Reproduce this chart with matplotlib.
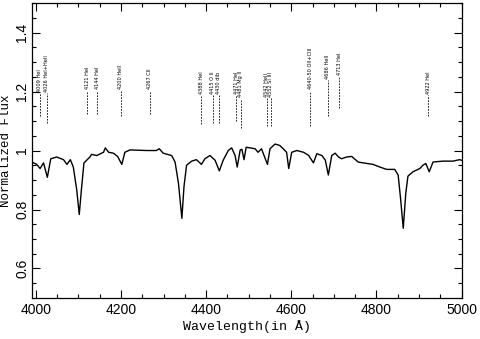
import numpy as np
import matplotlib.pyplot as plt
from matplotlib.ticker import MultipleLocator

# spectrum
wave = [3990, 4002, 4010, 4018, 4027, 4035, 4049, 4065, 4073, 4081, 4088, 4096,
        4102, 4107, 4113, 4127, 4131, 4143, 4159, 4163, 4171, 4182, 4192, 4202,
        4209, 4221, 4260, 4283, 4290, 4299, 4319, 4327, 4335, 4343, 4348, 4354,
        4366, 4377, 4381, 4389, 4397, 4409, 4421, 4431, 4440, 4452, 4460, 4468,
        4473, 4480, 4484, 4489, 4494, 4503, 4515, 4522, 4530, 4544, 4550, 4562,
        4573, 4581, 4589, 4594, 4601, 4613, 4629, 4641, 4652, 4660, 4672, 4680,
        4687, 4695, 4703, 4711, 4718, 4730, 4742, 4757, 4769, 4792, 4808, 4824,
        4843, 4851, 4857, 4863, 4869, 4874, 4886, 4902, 4909, 4916, 4924, 4933,
        4956, 4980, 4995, 5000]
flux = [0.961, 0.953, 0.939, 0.958, 0.909, 0.972, 0.978, 0.969, 0.953, 0.969, 0.944, 0.867,
        0.783, 0.867, 0.958, 0.978, 0.987, 0.983, 0.994, 1.009, 0.994, 0.991, 0.980, 0.953,
        0.994, 1.002, 1.000, 1.000, 1.006, 0.991, 0.983, 0.961, 0.889, 0.770, 0.878, 0.950,
        0.964, 0.969, 0.964, 0.953, 0.972, 0.983, 0.967, 0.931, 0.967, 1.000, 1.009, 0.983,
        0.944, 1.002, 1.004, 0.969, 1.011, 1.009, 1.006, 0.994, 1.006, 0.953, 1.006, 1.022,
        1.017, 1.006, 0.994, 0.939, 0.994, 1.000, 0.994, 0.983, 0.958, 0.989, 0.983, 0.967,
        0.917, 0.983, 0.991, 0.978, 0.972, 0.978, 0.980, 0.961, 0.958, 0.953, 0.944, 0.936,
        0.936, 0.917, 0.833, 0.736, 0.856, 0.913, 0.928, 0.939, 0.950, 0.956, 0.928, 0.961,
        0.964, 0.964, 0.969, 0.967]

# line identifications
line_wave = [4009, 4026, 4121, 4144, 4200, 4267, 4388, 4415, 4430, 4471, 4481,
             4542, 4552, 4645, 4686, 4713, 4922]
line_text = ['4009 HeI', '4026 HeI+HeII', '4121 HeI', '4144 HeI', '4200 HeII',
             '4267 CII', '4388 HeI', '4415 O II', '4430 dib', '4471 HeI',
             '4481 Mg II', '4542 HeII', '4552 Si III', '4640-50 OII+CIII',
             '4686 HeII', '4713 HeI', '4922 HeI']
line_low = [1.117, 1.093, 1.123, 1.123, 1.117, 1.123, 1.090, 1.093, 1.093, 1.100,
            1.077, 1.083, 1.083, 1.083, 1.117, 1.143, 1.117]
line_high = [1.200, 1.200, 1.207, 1.207, 1.207, 1.207, 1.193, 1.193, 1.193, 1.193,
             1.180, 1.183, 1.183, 1.207, 1.243, 1.257, 1.193]

fig = plt.figure(figsize=(4.8, 3.39), dpi=100)
ax = fig.add_axes([0.0667, 0.121, 0.8958, 0.870])

ax.plot(wave, flux, color='black', lw=1.0)

for w, t, lo, hi in zip(line_wave, line_text, line_low, line_high):
    ax.plot([w, w], [lo, hi - 0.005], color='black', lw=0.6, ls=(0, (2, 1.5)))
    ax.text(w, hi, t, rotation=90, ha='center', va='bottom', fontsize=3.6,
            family='DejaVu Sans')

ax.set_xlim(3991, 5001)
ax.set_ylim(0.5, 1.5)
ax.xaxis.set_major_locator(MultipleLocator(200))
ax.xaxis.set_minor_locator(MultipleLocator(50))
ax.yaxis.set_major_locator(MultipleLocator(0.2))
ax.yaxis.set_minor_locator(MultipleLocator(0.05))
ax.tick_params(which='both', direction='in', top=True, right=True, width=0.8)
ax.tick_params(which='major', length=6, labelsize=10)
ax.tick_params(which='minor', length=3)
ax.tick_params(axis='y', which='major', pad=2)
ax.set_yticks([0.6, 0.8, 1.0, 1.2, 1.4])
ax.set_yticklabels(['0.6', '0.8', '1', '1.2', '1.4'], rotation=90, va='center')
for lab in ax.get_xticklabels() + ax.get_yticklabels():
    lab.set_family('Liberation Sans')
for s in ax.spines.values():
    s.set_linewidth(0.9)

ax.set_xlabel('Wavelength(in Å)', family='Liberation Mono', fontsize=9.5, labelpad=2)
ax.set_ylabel('Normalized Flux', family='Liberation Mono', fontsize=9)
ax.yaxis.set_label_coords(-0.047, 0.5)

plt.savefig('out.png', dpi=100)
